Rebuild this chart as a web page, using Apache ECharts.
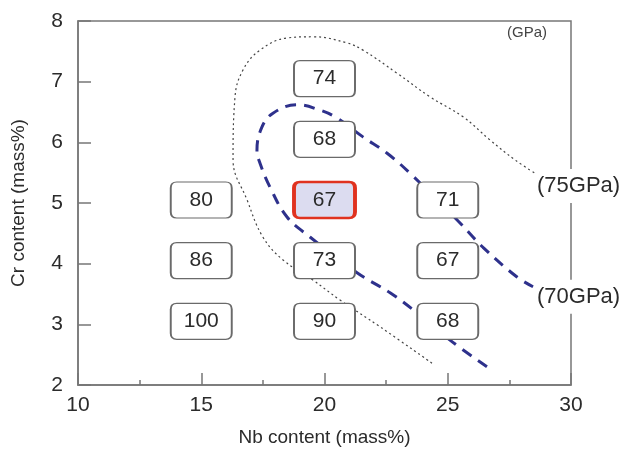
<!DOCTYPE html>
<html>
<head>
<meta charset="utf-8">
<script src="https://cdn.jsdelivr.net/npm/echarts@6/dist/echarts.min.js"></script>
<style>
  html, body { margin: 0; padding: 0; background: #fff; }
  #chart { width: 623px; height: 456px; }
</style>
</head>
<body>
<div id="chart"></div>
<script>
// measured points: Nb, Cr and Young's modulus (GPa)
const nbValues = [15, 15, 15, 20, 20, 20, 20, 20, 25, 25, 25]
const crValues = [5, 4, 3, 7, 6, 5, 4, 3, 5, 4, 3]
const modulus = [80, 86, 100, 74, 68, 67, 73, 90, 71, 67, 68]
const bestPoint = [20, 5]

// 75 GPa contour (dotted)
const c75Nb = [24.36, 22.25, 20.63, 19.53, 18.32, 17.5, 16.86, 16.29, 16.37, 16.69, 17.38, 18.48, 19.53, 20.91, 21.56, 22.94, 24.28, 25.62, 26.71, 27.73, 28.66]
const c75Cr = [2.36, 2.96, 3.4, 3.73, 4.06, 4.44, 5.05, 5.71, 6.75, 7.19, 7.52, 7.72, 7.74, 7.64, 7.52, 7.14, 6.75, 6.42, 6.04, 5.71, 5.46]

// 70 GPa contour (dashed)
const c70Nb = [26.59, 25.09, 23.75, 22.66, 21.32, 19.41, 18.48, 17.79, 17.38, 17.26, 17.46, 17.91, 18.88, 19.82, 20.51, 21.56, 22.54, 23.47, 25.38, 26.43, 27.81, 28.46]
const c70Cr = [2.3, 2.74, 3.19, 3.52, 3.85, 4.44, 4.77, 5.26, 5.66, 5.87, 6.25, 6.48, 6.62, 6.53, 6.4, 6.09, 5.82, 5.49, 4.72, 4.27, 3.78, 3.62]

const font = 'Liberation Sans, Arial, sans-serif'
const textColor = '#2b2b2b'
const boxPath = 'path://M6,0 H55 Q61,0 61,6 V30 Q61,36 55,36 H6 Q0,36 0,30 V6 Q0,0 6,0 Z'

const chart = echarts.init(document.getElementById('chart'))

const points = nbValues.map((x, i) => {
  const best = x === bestPoint[0] && crValues[i] === bestPoint[1]
  return {
    value: [x, crValues[i], modulus[i]],
    itemStyle: best
      ? { color: '#dcdcf0', borderColor: '#e0321f', borderWidth: 3, opacity: 1 }
      : { color: '#fff', borderColor: '#6a6a6a', borderWidth: 1.5, opacity: 1 }
  }
})

chart.setOption({
  animation: false,
  textStyle: { fontFamily: font },
  grid: {
    left: 78, right: 52, top: 21, bottom: 71,
    show: true, borderColor: '#777', borderWidth: 1.5
  },
  xAxis: {
    type: 'value',
    min: 10, max: 30, interval: 5,
    name: 'Nb content (mass%)',
    nameLocation: 'middle',
    nameGap: 43,
    nameTextStyle: { fontSize: 19, color: textColor },
    axisLine: { lineStyle: { color: '#777', width: 1.5 } },
    axisTick: { inside: true, length: 12, lineStyle: { color: '#777', width: 1.5 } },
    minorTick: { show: true, splitNumber: 2, length: 5, lineStyle: { color: '#777', width: 1.5 } },
    axisLabel: { fontSize: 21, color: textColor, margin: 10 },
    splitLine: { show: false }
  },
  yAxis: {
    type: 'value',
    min: 2, max: 8, interval: 1,
    name: 'Cr content (mass%)',
    nameLocation: 'middle',
    nameGap: 50,
    nameTextStyle: { fontSize: 19, color: textColor },
    axisLine: { lineStyle: { color: '#777', width: 1.5 } },
    axisTick: { inside: true, length: 13, lineStyle: { color: '#777', width: 1.5 } },
    axisLabel: { fontSize: 21, color: textColor, margin: 15 },
    splitLine: { show: false }
  },
  graphic: [{
    type: 'text',
    left: 507, top: 25,
    style: { text: '(GPa)', fontSize: 15, fill: '#444', fontFamily: font }
  }],
  series: [
    {
      type: 'line',
      data: c75Nb.map((x, i) => [x, c75Cr[i]]),
      smooth: 0.4,
      symbol: 'none',
      z: 2,
      lineStyle: { color: '#444', width: 1.2, type: [2, 3] },
      endLabel: {
        show: true,
        formatter: '(75GPa)',
        position: 'right',
        distance: 0,
        offset: [-3, 11],
        fontSize: 22,
        color: textColor,
        backgroundColor: '#fff',
        padding: [6, 2, 6, 2]
      }
    },
    {
      type: 'line',
      data: c70Nb.map((x, i) => [x, c70Cr[i]]),
      smooth: 0.4,
      symbol: 'none',
      z: 2,
      lineStyle: { color: '#2e318c', width: 3, type: [11, 8] },
      endLabel: {
        show: true,
        formatter: '(70GPa)',
        position: 'right',
        distance: 0,
        offset: [2, 10],
        fontSize: 22,
        color: textColor,
        backgroundColor: '#fff',
        padding: [6, 2, 6, 2]
      }
    },
    {
      type: 'scatter',
      data: points,
      symbol: boxPath,
      symbolSize: [61, 36],
      symbolOffset: [0, -3],
      z: 3,
      label: {
        show: true,
        position: 'inside',
        formatter: p => p.value[2],
        fontSize: 21,
        color: textColor
      }
    }
  ]
})
</script>
</body>
</html>
